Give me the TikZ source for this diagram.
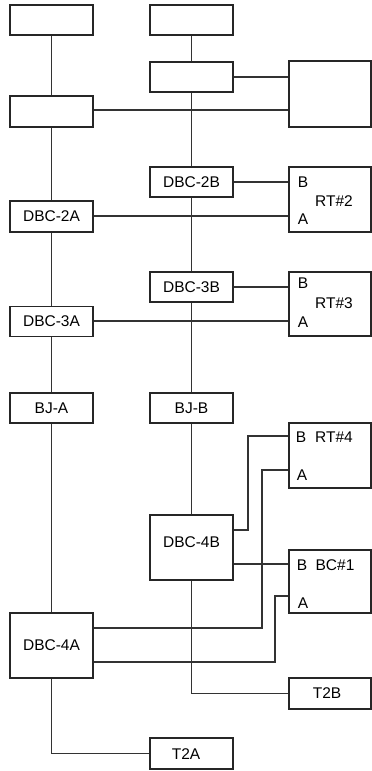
\documentclass[tikz,border=0pt]{standalone}
\usepackage{fontspec}
\setmainfont{Liberation Sans}
\begin{document}
\begin{tikzpicture}[x=1pt,y=-1pt,
  box/.style={draw=black!85,line width=1.6pt,fill=white,inner sep=0pt,
    minimum width=83pt,minimum height=30pt,font=\fontsize{15.5}{17}\selectfont},
  rbox/.style={box,minimum width=82pt},
  lbl/.style={inner sep=0pt,font=\fontsize{15.5}{17}\selectfont},
  wire/.style={draw=black!80,line width=1.5pt}]
\useasboundingbox (0,0) rectangle (372,771);
% left column
\node[box] (top1) at (51.5,20) {};
\node[box,minimum height=31pt] (left2) at (51.5,111.5) {};
\node[box,minimum height=31pt] (dbc2a) at (51.5,216.5) {DBC-2A};
\node[box] (dbc3a) at (51.5,321.5) {DBC-3A};
\node[box] (bja) at (51.5,408) {BJ-A};
\node[box,minimum height=65pt] (dbc4a) at (51.5,645.5) {DBC-4A};
% middle column
\node[box] (top2) at (191.5,20) {};
\node[box] (mid2) at (191.5,77) {};
\node[box] (dbc2b) at (191.5,182) {DBC-2B};
\node[box] (dbc3b) at (191.5,287) {DBC-3B};
\node[box] (bjb) at (191.5,408) {BJ-B};
\node[box,minimum height=65pt] (dbc4b) at (191.5,547.5) {};
\node[lbl] (dbc4bl) at (191.5,542) {DBC-4B};
\node[box,minimum height=31pt] (t2a) at (191.5,753.5) {};
\node[lbl] (t2al) at (186,754) {T2A};
% right column
\node[rbox,minimum height=66pt] (big) at (330,94) {};
\node[rbox,minimum height=65pt] (rt2) at (330,199.5) {};
\node[rbox,minimum height=64pt] (rt3) at (330,304) {};
\node[rbox,minimum height=65pt] (rt4) at (330,455.5) {};
\node[rbox,minimum height=63pt] (bc1) at (330,581.5) {};
\node[rbox,minimum height=31pt] (t2b) at (330,693.5) {};
\node[lbl] (t2bl) at (327,693) {T2B};
% right-box labels
\node[lbl] (rt2b) at (303,182) {B};
\node[lbl] (rt2a) at (303,219) {A};
\node[lbl] (rt2l) at (334,201) {RT\#2};
\node[lbl] (rt3b) at (303,283) {B};
\node[lbl] (rt3a) at (303,322) {A};
\node[lbl] (rt3l) at (334,303) {RT\#3};
\node[lbl] (rt4b) at (301,437) {B};
\node[lbl] (rt4a) at (302,475) {A};
\node[lbl] (rt4l) at (334,437) {RT\#4};
\node[lbl] (bc1b) at (302,565) {B};
\node[lbl] (bc1a) at (303,603) {A};
\node[lbl] (bc1l) at (335,565) {BC\#1};
% vertical buses
\path[wire] (top1) -- (left2) (left2) -- (dbc2a) (dbc2a) -- (dbc3a)
  (dbc3a) -- (bja) (bja) -- (dbc4a);
\path[wire] (top2) -- (mid2) (mid2) -- (dbc2b) (dbc2b) -- (dbc3b)
  (dbc3b) -- (bjb) (bjb) -- (dbc4b);
\draw[wire] (dbc4b.south) |- (t2b.west);
\draw[wire] (dbc4a.south) |- (t2a.west);
% horizontal stubs
\draw[wire] (mid2.east) -- (mid2.east -| big.west);
\draw[wire] ([yshift=1.5pt]left2.east) -- ([yshift=1.5pt]left2.east -| big.west);
\draw[wire] (dbc2b.east) -- (dbc2b.east -| rt2.west);
\draw[wire] ([yshift=0.5pt]dbc2a.east) -- ([yshift=0.5pt]dbc2a.east -| rt2.west);
\draw[wire] (dbc3b.east) -- (dbc3b.east -| rt3.west);
\draw[wire] ([yshift=0.5pt]dbc3a.east) -- ([yshift=0.5pt]dbc3a.east -| rt3.west);
\coordinate (p4b) at ([yshift=-50pt]dbc4b.north east);
\draw[wire] (p4b) -- (p4b -| bc1.west);
% routed links
\draw[wire] ([yshift=-14pt]rt4.north west) -| ([xshift=14pt,yshift=-16pt]dbc4b.north east) -- ([yshift=-16pt]dbc4b.north east);
\draw[wire] ([yshift=-48pt]rt4.north west) -| ([xshift=168pt,yshift=-16pt]dbc4a.north east) -- ([yshift=-16pt]dbc4a.north east);
\draw[wire] ([yshift=-47pt]bc1.north west) -| ([xshift=181pt,yshift=-50pt]dbc4a.north east) -- ([yshift=-50pt]dbc4a.north east);
\end{tikzpicture}
\end{document}
